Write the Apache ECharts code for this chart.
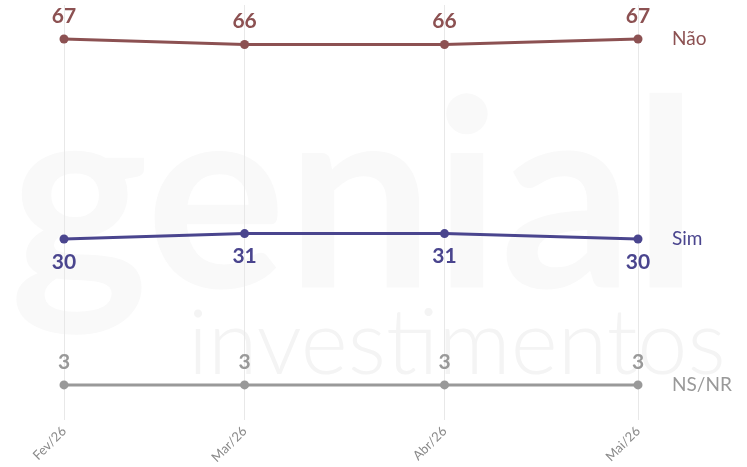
<!DOCTYPE html>
<html><head><meta charset="utf-8">
<script src="https://cdn.jsdelivr.net/npm/echarts@6/dist/echarts.min.js"></script>
<style>html,body{margin:0;padding:0;background:#fff}#c{width:747px;height:467px}</style>
</head><body><div id="c"></div>
<script>
const categories = ['Fev/26', 'Mar/26', 'Abr/26', 'Mai/26'];
const dates = ['2026-02-01', '2026-03-01', '2026-04-01', '2026-05-01'];
const naoValues = [67, 66, 66, 67];
const simValues = [30, 31, 31, 30];
const nsnrValues = [3, 3, 3, 3];

const font = 'Lato, "Open Sans", sans-serif';
const times = dates.map(d => new Date(d + 'T00:00:00').getTime());
function mk(name, vals, color, pos) {
  return {
    name: name, type: 'line', data: vals.map((v, i) => [times[i], v]), z: 5,
    symbol: 'circle', symbolSize: 9,
    lineStyle: { color: color, width: 3 },
    itemStyle: { color: color },
    label: { show: true, position: pos, distance: 8, color: color, fontSize: 21, fontWeight: 'bold', fontFamily: font },
    endLabel: { show: true, formatter: '{a}', color: color, fontSize: 19, fontFamily: font, distance: 34 },
    emphasis: { disabled: true }, animation: false
  };
}
const gridLines = {
  name: 'grid', type: 'line', data: [], silent: true, z: -5,
  markLine: {
    silent: true, symbol: 'none', label: { show: false }, z: -5,
    lineStyle: { color: '#e8e8e8', width: 1, type: 'solid' },
    emphasis: { disabled: true },
    data: times.map(t => ({ xAxis: t }))
  }
};
const chart = echarts.init(document.getElementById('c'));
chart.setOption({
  backgroundColor: '#fff',
  animation: false,
  graphic: [
    { type: 'text', left: 10, top: 72, z: -10, style: { text: 'genial', font: 'bold 262px ' + font, fill: '#f9f9f9' } },
    { type: 'text', left: 188, top: 300, z: -10, style: { text: 'investimentos', font: '300 90px ' + font, fill: '#f4f4f4' } }
  ],
  grid: { left: 64, right: 109, top: 5, bottom: 47 },
  xAxis: {
    type: 'time', min: times[0], max: times[times.length - 1],
    axisLine: { show: false }, axisTick: { show: false },
    splitLine: { show: false },
    axisLabel: {
      rotate: 45, color: '#8a8a8a', fontSize: 13, fontFamily: font, margin: 9, hideOverlap: false,
      showMinLabel: true, showMaxLabel: true,
      formatter: function (v) {
        const i = times.indexOf(v);
        return i >= 0 ? categories[i] : '';
      }
    }
  },
  yAxis: { type: 'value', min: -3.5, max: 73.3, show: false, splitLine: { show: false } },
  series: [
    gridLines,
    mk('Não', naoValues, '#8c5152', 'top'),
    mk('Sim', simValues, '#4a458e', 'bottom'),
    mk('NS/NR', nsnrValues, '#999999', 'top')
  ]
});
</script></body></html>
